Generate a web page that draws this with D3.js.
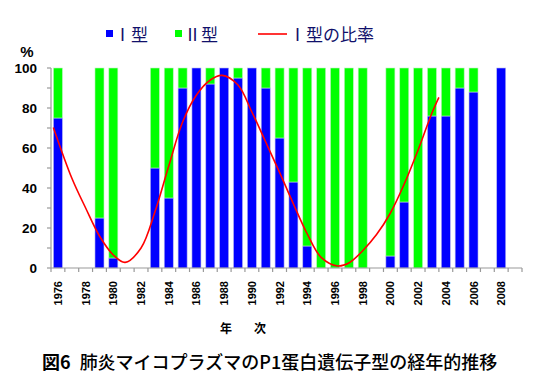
<!DOCTYPE html>
<html>
<head>
<meta charset="utf-8">
<script src="https://cdn.jsdelivr.net/npm/d3@7"></script>
<style>
  body { margin: 0; background: #fff; }
  svg { display: block; }
</style>
</head>
<body>
<div id="chart"></div>
<script>
// categories (year slots on the x axis)
const years = [1976, 1977, 1978, 1979, 1980, 1981, 1982, 1983, 1984, 1985, 1986, 1987,
    1988, 1989, 1990, 1991, 1992, 1993, 1994, 1995, 1996, 1997, 1998, 1999, 2000,
    2001, 2002, 2003, 2004, 2005, 2006, 2007, 2008, 2009];
const tickYears = [1976, 1978, 1980, 1982, 1984, 1986, 1988, 1990, 1992, 1994, 1996,
    1998, 2000, 2002, 2004, 2006, 2008];

// % of type I and type II per year (null = no data)
const typeI = [75, null, null, 25, 5, null, null, 50, 35, 90, 100, 92, 100, 95, 100, 90,
    65, 43, 11, 0, 0, 0, 0, null, 6, 33, 0, 76, 76, 90, 88, null, 100, null];
const typeII = [25, null, null, 75, 95, null, null, 50, 65, 10, 0, 8, 0, 5, 0, 10,
    35, 57, 89, 100, 100, 100, 100, null, 94, 67, 100, 24, 24, 10, 12, null, 0, null];

// trend curve of type I ratio
const trendYear = [1975.67, 1977, 1978, 1979, 1980, 1980.85, 1982, 1983, 1984, 1985, 1986,
    1987, 1987.85, 1989, 1990, 1991, 1992, 1993, 1994, 1995, 1996.2, 1997, 1998, 1999,
    2000, 2001, 2002, 2003, 2003.5];
const trendValue = [70.3, 45, 30, 16, 6.5, 2.8, 10, 28, 51, 73, 86.5, 94, 96.3, 91.5, 78,
    63, 47.8, 32, 17, 5.3, 1, 2.5, 8.6, 16.7, 27.5, 42, 59, 77.5, 85.3];

const yTicks = [0, 10, 20, 30, 40, 50, 60, 70, 80, 90, 100];
const yLabels = [0, 20, 40, 60, 80, 100];

const blue = '#0000FF';
const green = '#00FF00';
const red = '#FF0000';
const navy = '#10106a';
const axisGrey = '#999999';

const W = 536, H = 387;
const svg = d3.select('#chart').append('svg')
    .attr('width', W)
    .attr('height', H);

const xScale = d3.scaleBand()
    .domain(years)
    .range([51, 522])
    .paddingInner(0.35)
    .paddingOuter(0.175);

const yScale = d3.scaleLinear()
    .domain([0, 100])
    .range([268, 68]);

const bw = xScale.bandwidth();
const gap = (xScale.step() - bw) / 2;
const xc = d3.scaleLinear()
    .domain([years[0], years[years.length - 1]])
    .range([xScale(years[0]) + bw / 2, xScale(years[years.length - 1]) + bw / 2]);

// bars
const rows = years.map((y, i) => ({ year: y, a: typeI[i], b: typeII[i] }))
    .filter(d => d.a !== null);

svg.selectAll('.barI')
    .data(rows.filter(d => d.a > 0))
    .enter()
    .append('rect')
    .attr('x', d => xScale(d.year))
    .attr('y', d => yScale(d.a))
    .attr('width', bw)
    .attr('height', d => yScale(0) - yScale(d.a))
    .attr('fill', blue)
    .attr('stroke', '#b8b8f0')
    .attr('stroke-width', 0.6);

svg.selectAll('.barII')
    .data(rows.filter(d => d.b > 0))
    .enter()
    .append('rect')
    .attr('x', d => xScale(d.year))
    .attr('y', d => yScale(d.a + d.b))
    .attr('width', bw)
    .attr('height', d => yScale(d.a) - yScale(d.a + d.b))
    .attr('fill', green)
    .attr('stroke', '#c0f0c0')
    .attr('stroke-width', 0.6);

// axes
const axes = svg.append('g').attr('stroke', axisGrey).attr('stroke-width', 1.2);
axes.append('line')
    .attr('x1', 51).attr('x2', 51)
    .attr('y1', yScale(100)).attr('y2', yScale(0));
axes.append('line')
    .attr('x1', 51).attr('x2', 522)
    .attr('y1', yScale(0)).attr('y2', yScale(0));
axes.selectAll('.yt')
    .data(yTicks)
    .enter()
    .append('line')
    .attr('x1', 47).attr('x2', 51)
    .attr('y1', d => yScale(d)).attr('y2', d => yScale(d));
axes.selectAll('.xt')
    .data(years.concat(['end']))
    .enter()
    .append('line')
    .attr('x1', d => d === 'end' ? 522 : xScale(d) - gap)
    .attr('x2', d => d === 'end' ? 522 : xScale(d) - gap)
    .attr('y1', yScale(0)).attr('y2', yScale(0) + 4);

svg.selectAll('.yl')
    .data(yLabels)
    .enter()
    .append('text')
    .attr('x', 37)
    .attr('y', d => yScale(d) + 5)
    .attr('text-anchor', 'end')
    .style('font-family', 'Liberation Sans, Arial, sans-serif')
    .style('font-weight', 'bold')
    .style('font-size', '13.5px')
    .text(d => d);

svg.append('text')
    .attr('x', 27)
    .attr('y', 57)
    .attr('text-anchor', 'middle')
    .style('font-family', 'Liberation Sans, Arial, sans-serif')
    .style('font-weight', 'bold')
    .style('font-size', '15px')
    .text('%');

svg.selectAll('.xl')
    .data(tickYears)
    .enter()
    .append('text')
    .attr('transform', d => `translate(${xScale(d) + bw / 2 + 4}, 281) rotate(-90)`)
    .attr('text-anchor', 'end')
    .style('font-family', 'Liberation Sans, Arial, sans-serif')
    .style('font-weight', 'bold')
    .style('font-size', '11px')
    .text(d => d);

// trend line
const line = d3.line()
    .x((d, i) => xc(d))
    .y((d, i) => yScale(trendValue[i]))
    .curve(d3.curveCatmullRom);

svg.append('path')
    .datum(trendYear)
    .attr('fill', 'none')
    .attr('stroke', red)
    .attr('stroke-width', 1.6)
    .attr('d', line);

// legend
const jp = '"Noto Sans CJK JP", sans-serif';
svg.append('rect').attr('x', 106).attr('y', 30).attr('width', 7).attr('height', 7).attr('fill', blue);
svg.append('rect').attr('x', 175).attr('y', 30).attr('width', 7).attr('height', 7).attr('fill', green);
svg.append('line').attr('x1', 258).attr('x2', 287).attr('y1', 34).attr('y2', 34)
    .attr('stroke', red).attr('stroke-width', 1.6);
const legendTexts = [
    { x: 114, t: 'Ⅰ型' },
    { x: 184, t: 'Ⅱ型' },
    { x: 289, t: 'Ⅰ型の比率' }
];
svg.selectAll('.lg')
    .data(legendTexts)
    .enter()
    .append('text')
    .attr('x', d => d.x)
    .attr('y', 41)
    .style('font-family', jp)
    .style('font-size', '17px')
    .attr('fill', navy)
    .text(d => d.t);

// axis title
const axisTitle = [{ x: 226, t: '年' }, { x: 260, t: '次' }];
svg.selectAll('.at')
    .data(axisTitle)
    .enter()
    .append('text')
    .attr('x', d => d.x)
    .attr('y', 333)
    .attr('text-anchor', 'middle')
    .style('font-family', jp)
    .style('font-weight', 'bold')
    .style('font-size', '12px')
    .text(d => d.t);

// caption
const cap = svg.append('text')
    .attr('x', 42)
    .attr('y', 369)
    .style('font-family', jp)
    .style('font-size', '18px');
cap.append('tspan').style('font-weight', 'bold').text('図6');
cap.append('tspan').attr('dx', 9).style('font-weight', '500').text('肺炎マイコプラズマのP1蛋白遺伝子型の経年的推移');
</script>
</body>
</html>
